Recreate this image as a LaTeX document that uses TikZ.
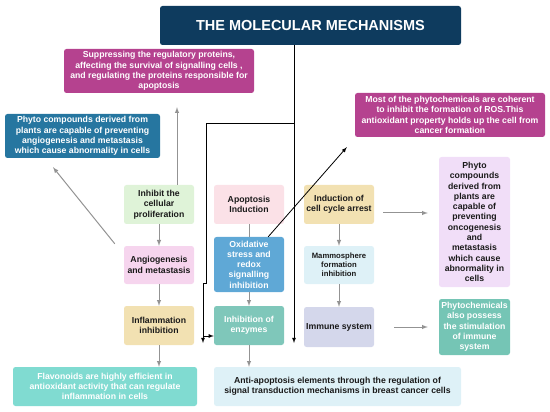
\documentclass[tikz,border=0pt]{standalone}
\usepackage{fontspec}
\setmainfont{Liberation Sans}
\usetikzlibrary{arrows}

\definecolor{navy}{HTML}{0E3B5E}
\definecolor{magenta}{HTML}{B5428F}
\definecolor{steel}{HTML}{2676A0}
\definecolor{mint}{HTML}{DFF3D8}
\definecolor{rosy}{HTML}{F6D5EE}
\definecolor{sand}{HTML}{F2E1B2}
\definecolor{aqua}{HTML}{80DBD1}
\definecolor{blush}{HTML}{FBE1E7}
\definecolor{sky}{HTML}{5FA8D6}
\definecolor{seagreen}{HTML}{7FC7BA}
\definecolor{ice}{HTML}{DEF1F7}
\definecolor{periwinkle}{HTML}{D4D7EB}
\definecolor{lilac}{HTML}{F1DEF8}
\definecolor{jade}{HTML}{75C5B5}
\definecolor{ink}{HTML}{1A1A1A}

\begin{document}
\begin{tikzpicture}[x=1pt,y=-1pt,
  box/.style={rounded corners=2.5pt, align=center, inner sep=1pt, text=ink,
    font=\bfseries\fontsize{8.7}{10.3}\selectfont},
  small/.style={box, minimum width=70pt, minimum height=39pt},
  grayarrow/.style={-latex, draw=gray!85, line width=1pt},
  blackarrow/.style={-latex, draw=black, line width=0.8pt}]

\useasboundingbox (0,0) rectangle (550,412);

%title
\node[box, fill=navy, text=white, minimum width=301pt, minimum height=39pt,
  font=\bfseries\fontsize{14.5}{17}\selectfont] (title) at (310.5,25.5) {THE MOLECULAR MECHANISMS};

%outcome boxes
\node[box, fill=magenta, text=white, minimum width=190pt, minimum height=44pt] (supp) at (159,71)
  {Suppressing the regulatory proteins,\\ affecting the survival of signalling cells ,\\ and regulating the proteins responsible for\\ apoptosis};
\node[box, fill=steel, text=white, minimum width=155pt, minimum height=44pt] (phyto1) at (82.5,136)
  {Phyto compounds derived from\\ plants are capable of preventing\\ angiogenesis and metastasis\\ which cause abnormality in cells};
\node[box, fill=magenta, text=white, minimum width=190pt, minimum height=44pt] (ros) at (450,115)
  {Most of the phytochemicals are coherent\\ to inhibit the formation of ROS.This\\ antioxidant property holds up the cell from\\ cancer formation};
\node[box, fill=lilac, minimum width=71pt, minimum height=130pt] (phyto2) at (474.5,222)
  {Phyto\\ compounds\\ derived from\\ plants are\\ capable of\\ preventing\\ oncogenesis\\ and\\ metastasis\\ which cause\\ abnormality in\\ cells};
\node[box, fill=jade, text=white, minimum width=71pt, minimum height=56pt] (immstim) at (474.5,327)
  {Phytochemicals\\ also possess\\ the stimulation\\ of immune\\ system};

%first column
\node[small, fill=mint] (prolif) at (159,204.5) {Inhibit the\\ cellular\\ proliferation};
\node[small, fill=rosy, minimum height=38pt] (angio) at (159,265) {Angiogenesis\\ and metastasis};
\node[small, fill=sand] (inflam) at (159,325.5) {Inflammation\\ inhibition};
\node[box, fill=aqua, text=white, minimum width=184pt, minimum height=39pt] (flavo) at (105,386.5)
  {Flavonoids are highly efficient in\\ antioxidant activity that can regulate\\ inflammation in cells};

%second column
\node[small, fill=blush] (apop) at (249,204.5) {Apoptosis\\ Induction};
\node[small, fill=sky, text=white, minimum height=55pt] (oxid) at (249,264.5)
  {Oxidative\\ stress and\\ redox\\ signalling\\ inhibition};
\node[small, fill=seagreen, text=white] (enz) at (249,325.5) {Inhibition of\\ enzymes};
\node[box, fill=ice, minimum width=247pt, minimum height=39pt] (anti) at (337.5,386.5)
  {Anti-apoptosis elements through the regulation of\\ signal transduction mechanisms in breast cancer cells};

%third column
\node[small, fill=sand] (cycle) at (339,204.5) {Induction of\\ cell cycle arrest};
\node[small, fill=ice, minimum height=38pt, font=\bfseries\fontsize{7.7}{9}\selectfont] (mammo) at (339,265)
  {Mammosphere\\ formation\\ inhibition};
\node[small, fill=periwinkle, minimum height=40pt] (immune) at (339,327) {Immune system};

%gray arrows inside the columns
\draw[grayarrow] (prolif) -- (angio);
\draw[grayarrow] (angio) -- (inflam);
\draw[grayarrow] (inflam) -- (inflam |- flavo.north);
\draw[draw=gray!85, line width=1pt] (apop) -- (oxid);
\draw[grayarrow] (oxid) -- (enz);
\draw[grayarrow] (enz) -- (enz |- anti.north);
\draw[grayarrow] (cycle) -- (mammo);
\draw[grayarrow] (mammo) -- (immune);

%gray arrows to the outcome boxes
\draw[grayarrow] ([xshift=18pt]prolif.north) -- ([xshift=18pt,yshift=-14pt]supp.south);
\draw[grayarrow] ([shift={(-9pt,2pt)}]angio.north west) -- ([shift={(-29.5pt,-9pt)}]phyto1.south);
\draw[grayarrow] ([shift={(9pt,-8.5pt)}]cycle.east) -- ([shift={(-11pt,9pt)}]phyto2.west);
\draw[grayarrow] ([xshift=20pt]immune.east) -- ([xshift=-11pt]immstim.west);

%black connectors from the title
\coordinate (split) at (294,123);
\coordinate (bend) at (206,123);
\coordinate (jog) at (206,283);
\coordinate (drop) at (203,283);
\coordinate (tip) at (203,336);
\draw[blackarrow] (split |- title.south) -- (294,343);
\draw[blackarrow] (split) -- (bend) -- (jog) -- (drop) -- (203,343);
\draw[blackarrow] (tip) -- (tip -| enz.west);
\draw[blackarrow] ([xshift=-16pt]oxid.north east) -- ([shift={(-8pt,-10pt)}]ros.south west);

\end{tikzpicture}
\end{document}
